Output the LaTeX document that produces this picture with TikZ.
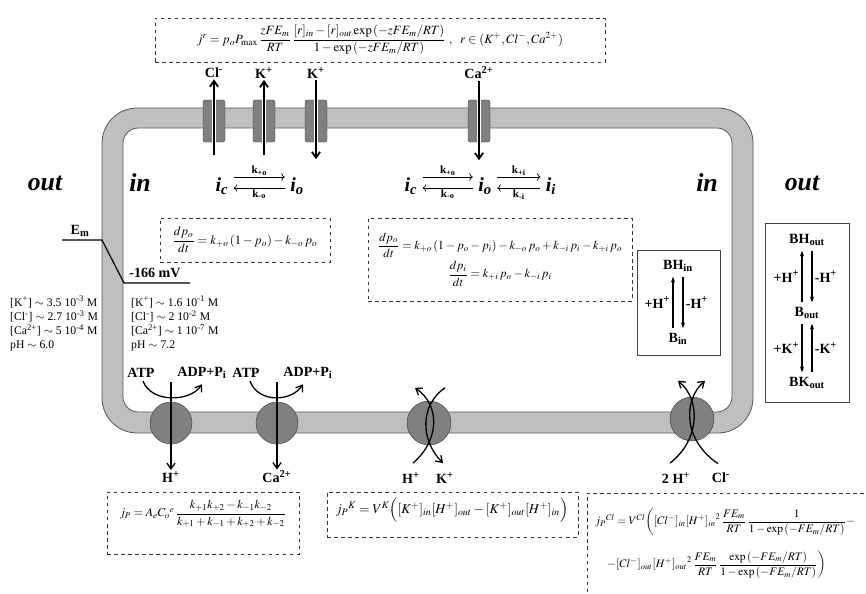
\documentclass[tikz,border=0pt]{standalone}
\usepackage{amsmath}
\usepackage{mathptmx}
\usepackage{fontspec}
\setmainfont{Liberation Serif}
\usetikzlibrary{arrows.meta,calc}

\begin{document}
\begin{tikzpicture}[
  x=0.03cm, y=-0.03cm,
  memb/.style={draw=black!65, fill=black!25, line width=0.7pt, even odd rule},
  channel/.style={rectangle, rounded corners=2pt, draw=black!75, fill=black!50,
                  minimum width=0.66cm, minimum height=1.26cm, inner sep=0pt},
  pump/.style={circle, draw=black!75, fill=black!50, minimum size=1.26cm, inner sep=0pt},
  flux/.style={-{Straight Barb[length=5pt,width=7pt]}, line width=1.5pt,
               preaction={draw=white, line width=3.6pt, arrows=-}},
  pumparrow/.style={-{Straight Barb[length=5pt,width=7pt]}, line width=1.1pt},
  rate/.style={-{To[length=3pt]}, line width=0.6pt},
  bufarrow/.style={-{Stealth[length=5pt,width=3.5pt]}, line width=0.9pt,
                   shorten <=3pt, shorten >=3pt},
  eqbox/.style={rectangle, draw=black!80, dashed, line width=0.8pt, inner sep=0pt},
  bufbox/.style={rectangle, draw=black!75, line width=0.8pt, inner sep=0pt},
  side/.style={font=\bfseries\itshape\fontsize{22}{24}\selectfont},
  ion/.style={font=\bfseries\fontsize{12}{14}\selectfont, inner sep=1pt},
  state/.style={font=\bfseries\itshape\fontsize{17}{19}\selectfont, inner sep=1pt},
  kconst/.style={font=\bfseries\fontsize{9.5}{10}\selectfont, inner sep=1pt},
  conc/.style={font=\fontsize{10}{12}\selectfont, align=left, anchor=north west, inner sep=0pt},
  eq/.style={font=\fontsize{10.8}{13}\selectfont, inner sep=0pt}
]
\useasboundingbox[fill=white] (0,0) rectangle (866,594);

% membrane
\path[memb, rounded corners=30pt] (102,108) rectangle (753,433)
  [rounded corners=13pt] (123,128) rectangle (732,412);

% channel current
\node[eqbox, minimum width=13.5cm, minimum height=1.32cm] (jrbox) at (380,40) {};
\node[eq] (jr) at (jrbox) {$j^{r} = p_o P_{\max}\,\dfrac{zFE_m}{RT}\,\dfrac{[r]_{in}-[r]_{out}\exp\left(-zFE_m/RT\right)}{1-\exp\left(-zFE_m/RT\right)}\ ,\ \ r\in(K^{+},Cl^{-},Ca^{2+})$};

% channels
\node[channel] (chCl) at (214,121) {};
\node[channel] (chK1) at (264,121) {};
\node[channel] (chK2) at (316,121) {};
\node[channel] (chCa) at (479,121) {};
\node[ion] (lCl) at (214,73) {Cl\textsuperscript{-}};
\node[ion] (lK1) at (264,73) {K\textsuperscript{+}};
\node[ion] (lK2) at (316,73) {K\textsuperscript{+}};
\node[ion] (lCa) at (479,73) {Ca\textsuperscript{2+}};
\draw[flux] ($(chCl.south)+(0,13)$) -- (lCl.south);
\draw[flux] ($(chK1.south)+(0,13)$) -- (lK1.south);
\draw[flux] (lK2.south) -- ($(chK2.south)+(0,17)$);
\draw[flux] (lCa.south) -- ($(chCa.south)+(0,18)$);

% compartments
\node[side] (outL) at (45,183) {out};
\node[side] (inL) at (140,183) {in};
\node[side] (inR) at (707,183) {in};
\node[side] (outR) at (802,183) {out};

% gating schemes
\node[state] (ic1) at (222,186) {i\textsubscript{c}};
\node[state] (io1) at (297,186) {i\textsubscript{o}};
\draw[rate] ($(ic1.east)+(4,-9)$) -- node[kconst, above]{k\textsubscript{+o}} ($(io1.west)+(-4,-9)$);
\draw[rate] ($(io1.west)+(-4,2)$) -- node[kconst, below]{k\textsubscript{-o}} ($(ic1.east)+(4,2)$);

\node[state] (ic2) at (411,186) {i\textsubscript{c}};
\node[state] (io2) at (485,186) {i\textsubscript{o}};
\node[state] (ii2) at (551,186) {i\textsubscript{i}};
\draw[rate] ($(ic2.east)+(4,-9)$) -- node[kconst, above]{k\textsubscript{+o}} ($(io2.west)+(-4,-9)$);
\draw[rate] ($(io2.west)+(-4,2)$) -- node[kconst, below]{k\textsubscript{-o}} ($(ic2.east)+(4,2)$);
\draw[rate] ($(io2.east)+(4,-9)$) -- node[kconst, above]{k\textsubscript{+i}} ($(ii2.west)+(-4,-9)$);
\draw[rate] ($(ii2.west)+(-4,2)$) -- node[kconst, below]{k\textsubscript{-i}} ($(io2.east)+(4,2)$);

\node[eqbox, minimum width=5.1cm, minimum height=1.32cm] (dpbox1) at (245,240) {};
\node[eq] (dp1) at (dpbox1) {$\dfrac{dp_o}{dt} = k_{+o}\left(1-p_o\right) - k_{-o}\,p_o$};

\node[eqbox, minimum width=7.92cm, minimum height=2.49cm] (dpbox2) at (500,259.5) {};
\node[eq, align=center, font=\fontsize{10.4}{13}\selectfont] (dp2) at (dpbox2) {$\dfrac{dp_o}{dt} = k_{+o}\left(1-p_o-p_i\right) - k_{-o}\,p_o + k_{-i}\,p_i - k_{+i}\,p_o$\\[2pt]
  $\dfrac{dp_i}{dt} = k_{+i}\,p_o - k_{-i}\,p_i$};

% membrane potential
\node[ion] (em) at (80,231) {E\textsubscript{m}};
\node[ion] (mv) at (155,273) {-166 mV};
\draw[line width=1pt] (62,240) -- (102,240) -- (124,283) -- (190,283);

\node[conc] (cout) at (10,296) {{[}K\textsuperscript{+}] $\sim$ 3.5 10\textsuperscript{-3} M\\
  {[}Cl\textsuperscript{-}] $\sim$ 2.7 10\textsuperscript{-3} M\\
  {[}Ca\textsuperscript{2+}] $\sim$ 5 10\textsuperscript{-4} M\\
  pH $\sim$ 6.0};
\node[conc] (cin) at (131,296) {{[}K\textsuperscript{+}] $\sim$ 1.6 10\textsuperscript{-1} M\\
  {[}Cl\textsuperscript{-}] $\sim$ 2 10\textsuperscript{-2} M\\
  {[}Ca\textsuperscript{2+}] $\sim$ 1 10\textsuperscript{-7} M\\
  pH $\sim$ 7.2};

% buffers
\node[bufbox, minimum width=2.49cm, minimum height=3.15cm] (bufin) at (678.5,302.5) {};
\node[ion] (bhin) at (678,266) {BH\textsubscript{in}};
\node[ion] (bin) at (678,339) {B\textsubscript{in}};
\draw[bufarrow] ($(bin.north)+(-5,0)$) -- node[ion, left=1pt]{+H\textsuperscript{+}} ($(bhin.south)+(-5,0)$);
\draw[bufarrow] ($(bhin.south)+(5,0)$) -- node[ion, right=1pt]{-H\textsuperscript{+}} ($(bin.north)+(5,0)$);

\node[bufbox, minimum width=2.52cm, minimum height=5.37cm] (bufout) at (807,312.5) {};
\node[ion] (bhout) at (807,240) {BH\textsubscript{out}};
\node[ion] (bout) at (807,313) {B\textsubscript{out}};
\node[ion] (bkout) at (807,383) {BK\textsubscript{out}};
\draw[bufarrow] ($(bout.north)+(-5,0)$) -- node[ion, left=1pt]{+H\textsuperscript{+}} ($(bhout.south)+(-5,0)$);
\draw[bufarrow] ($(bhout.south)+(5,0)$) -- node[ion, right=1pt]{-H\textsuperscript{+}} ($(bout.north)+(5,0)$);
\draw[bufarrow] ($(bout.south)+(-5,0)$) -- node[ion, left=1pt]{+K\textsuperscript{+}} ($(bkout.north)+(-5,0)$);
\draw[bufarrow] ($(bkout.north)+(5,0)$) -- node[ion, right=1pt]{-K\textsuperscript{+}} ($(bout.south)+(5,0)$);

% pumps and exchangers
\node[pump] (pH) at (171,423) {};
\node[pump] (pCa) at (277,423) {};
\node[pump, minimum size=1.32cm] (pHK) at (429,423) {};
\node[pump, minimum size=1.32cm] (pHCl) at (692,419) {};

\node[ion] (atp1) at (141,373) {ATP};
\node[ion] (adp1) at (202,373) {ADP+P\textsubscript{i}};
\node[ion] (atp2) at (246,373) {ATP};
\node[ion] (adp2) at (308,373) {ADP+P\textsubscript{i}};
\node[ion] (hp1) at (171,477) {H\textsuperscript{+}};
\node[ion] (ca2) at (277,477) {Ca\textsuperscript{2+}};
\draw[pumparrow] ($(atp1.south)+(2,2)$) .. controls +(8,22) and +(-12,18) .. ($(adp1.south)+(0,4)$);
\draw[pumparrow] ($(atp2.south)+(4,2)$) .. controls +(8,22) and +(-12,18) .. ($(adp2.south)+(-5,4)$);
\draw[pumparrow] ($(pH.center)+(0,-41)$) -- (hp1.north);
\draw[pumparrow] ($(pCa.center)+(0,-41)$) -- (ca2.north);

\node[ion] (hx) at (411,478) {H\textsuperscript{+}};
\node[ion] (kx) at (445,478) {K\textsuperscript{+}};
\draw[pumparrow] ($(hx.north)+(2,-8)$) .. controls (440,440) and (440,405) .. ($(pHK.north)+(-14,-13)$);
\draw[pumparrow] ($(pHK.north)+(16,-13)$) .. controls (420,405) and (420,440) .. ($(kx.north)+(-2,-8)$);

\node[ion] (h2x) at (676,478) {2 H\textsuperscript{+}};
\node[ion] (clx) at (721,478) {Cl\textsuperscript{-}};
\draw[pumparrow] ($(h2x.north)+(-6,-8)$) .. controls (700,440) and (701,400) .. ($(pHCl.north)+(-14,-16)$);
\draw[pumparrow] ($(clx.north)+(-3,-8)$) .. controls (683,440) and (683,400) .. ($(pHCl.north)+(13,-16)$);

% pump fluxes
\node[eqbox, minimum width=5.76cm, minimum height=1.86cm] (jpbox) at (203,523) {};
\node[eq, font=\fontsize{10.3}{13}\selectfont] (jp) at (203,514) {$j_P = A_e {C_o}^{e}\,\dfrac{k_{+1}k_{+2}-k_{-1}k_{-2}}{k_{+1}+k_{-1}+k_{+2}+k_{-2}}$};

\node[eqbox, minimum width=7.53cm, minimum height=1.35cm] (jkbox) at (452.5,514.5) {};
\node[eq, font=\fontsize{11.5}{13}\selectfont] (jk) at (452,510) {${j_P}^{K} = V^{K}\Bigl([K^{+}]_{in}[H^{+}]_{out} - [K^{+}]_{out}[H^{+}]_{in}\Bigr)$};

\node[eqbox, minimum width=9.39cm, minimum height=4.71cm] (jclbox) at (743.5,571.5) {};
\node[eq, anchor=west, font=\fontsize{9.8}{12}\selectfont] (jcl1) at (595,522) {${j_P}^{Cl} = V^{Cl}\biggl([Cl^{-}]_{in}{[H^{+}]_{in}}^{2}\,\dfrac{FE_m}{RT}\,\dfrac{1}{1-\exp\left(-FE_m/RT\right)}-$};
\node[eq, anchor=west, font=\fontsize{9.8}{12}\selectfont] (jcl2) at (607,565) {$-[Cl^{-}]_{out}{[H^{+}]_{out}}^{2}\,\dfrac{FE_m}{RT}\,\dfrac{\exp\left(-FE_m/RT\right)}{1-\exp\left(-FE_m/RT\right)}\biggr)$};

\end{tikzpicture}
\end{document}
